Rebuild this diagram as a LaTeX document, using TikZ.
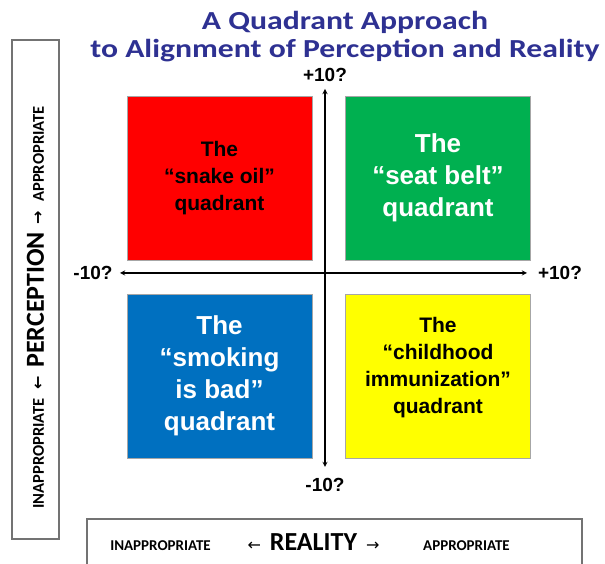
\documentclass[tikz,border=0pt]{standalone}
\usepackage{fontspec}
\usepackage{tikz}
\usetikzlibrary{shapes, arrows, positioning}
\newfontfamily\calibri{Carlito}
\newfontfamily\titlefont[FakeStretch=1.22]{Carlito}
\newfontfamily\arial{Liberation Sans}
\newfontfamily\arrowfont{DejaVu Sans}
\definecolor{titleblue}{RGB}{46,49,146}
\definecolor{qred}{RGB}{255,0,0}
\definecolor{qgreen}{RGB}{0,176,80}
\definecolor{qblue}{RGB}{0,112,192}
\definecolor{qyellow}{RGB}{255,255,0}
\newcommand{\quadsmall}{\arial\bfseries\fontsize{21}{27}\selectfont}
\newcommand{\quadbig}{\arial\bfseries\fontsize{26}{32}\selectfont}
\newcommand{\smalllab}{\calibri\bfseries\fontsize{15}{18}\selectfont}
\newcommand{\sidelab}{\calibri\bfseries\fontsize{16.5}{18}\selectfont}
\newcommand{\biglab}{\calibri\bfseries\fontsize{26}{28}\selectfont}
\newcommand{\arr}[1]{{\arrowfont\fontsize{16}{18}\selectfont #1}}
\tikzstyle{quadrant} = [rectangle, minimum width=185pt, minimum height=164pt, text centered,
align=center, draw=black!35, line width=0.8pt, font=\quadsmall]
\tikzstyle{quadtext} = [align=center, font=\quadsmall]
\tikzstyle{sidebox} = [rectangle, draw=black!55, line width=1.2pt]
\tikzstyle{axislabel} = [font=\arial\bfseries\fontsize{19}{22}\selectfont]
\tikzstyle{titletext} = [align=center, text=titleblue, font=\titlefont\bfseries\fontsize{26}{28}\selectfont]
\tikzstyle{axis} = [line width=1.3pt, <->, >=stealth]
\begin{document}
\begin{tikzpicture}[x=1pt, y=1pt, node distance=218.5pt]
    \useasboundingbox (-325,-291) rectangle (280,273);

    \node (title) [titletext] at (20,236.5) {A Quadrant Approach\\to Alignment of Perception and Reality};

    \node (snakeoil) [quadrant, fill=qred] at (-105.5,95) {The\\“snake oil”\\quadrant};
    \node (seatbelt) [quadrant, fill=qgreen, text=white, font=\quadbig, right of=snakeoil] {The\\“seat belt”\\quadrant};
    \node (smoking) [quadrant, fill=qblue, text=white, font=\quadbig, below of=snakeoil, yshift=20.5pt] {The\\“smoking\\is bad”\\quadrant};
    \node (childhood) [quadrant, fill=qyellow, right of=smoking] {};
    \node (childtext) [quadtext, yshift=8pt] at (childhood) {The\\“childhood\\immunization”\\quadrant};

    \coordinate (ytop) at (0,184);
    \coordinate (ybot) at (0,-194);
    \coordinate (xleft) at (-205,0);
    \coordinate (xright) at (202,0);
    \draw[axis] (xleft) -- (xright);
    \draw[axis] (ybot) -- (ytop);
    \node (topval) [axislabel] at (0,198) {+10?};
    \node (botval) [axislabel] at (0,-212) {-10?};
    \node (leftval) [axislabel] at (-232,0) {-10?};
    \node (rightval) [axislabel] at (235,0) {+10?};

    \node (percbox) [sidebox, minimum width=47pt, minimum height=499pt] at (-289.5,-16.5) {};
    \node (perception) [rotate=90, anchor=base] at (-281,-34.5) {\sidelab INAPPROPRIATE\hspace{9pt}\arr{←}\hspace{8pt}{\biglab PERCEPTION}\hspace{8pt}\arr{→}\hspace{9pt}APPROPRIATE};

    \node (realbox) [sidebox, minimum width=495pt, minimum height=50pt] at (9.5,-271) {};
    \node (reality) [anchor=base] at (-11.5,-277) {\arr{←}\hspace{9pt}{\biglab REALITY}\hspace{9pt}\arr{→}};
    \node (realitylow) [anchor=base, font=\smalllab] at (-164.5,-277) {INAPPROPRIATE};
    \node (realityhigh) [anchor=base, font=\smalllab] at (141.5,-277) {APPROPRIATE};

\end{tikzpicture}
\end{document}
